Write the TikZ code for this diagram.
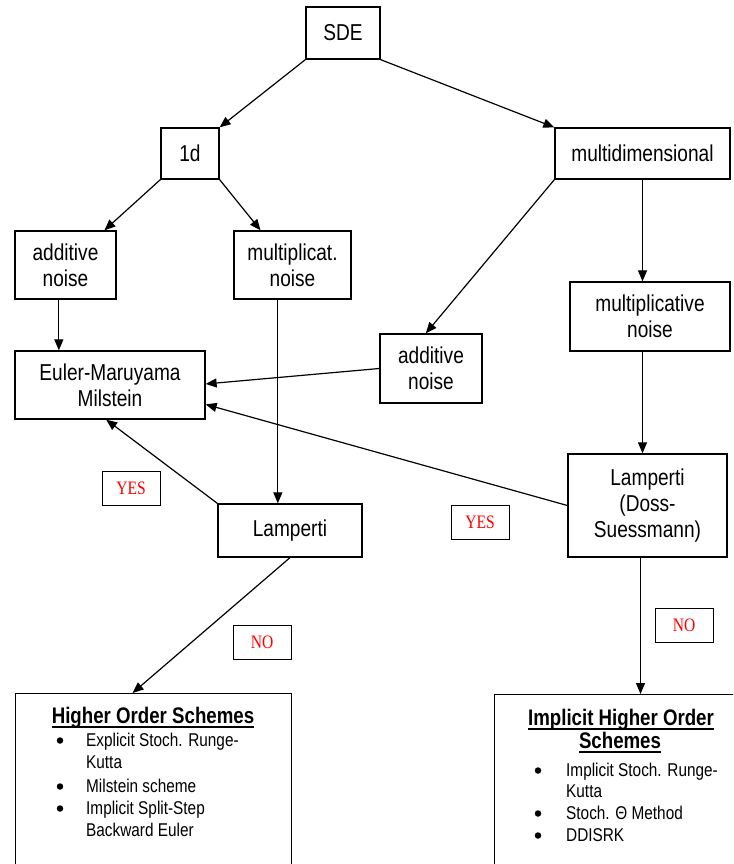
\documentclass[tikz,border=0pt]{standalone}
\usepackage{fontspec}
\setmainfont[FakeStretch=0.83]{Liberation Sans}
\newfontfamily\serifred[FakeStretch=0.82]{Liberation Serif}
\usetikzlibrary{arrows.meta,calc}
\begin{document}
\begin{tikzpicture}[x=1pt,y=-1pt,
  box/.style={draw,line width=1.3pt,inner sep=0pt,align=center,font=\fontsize{23}{26}\selectfont},
  tag/.style={draw,line width=1pt,inner sep=0pt,minimum width=58pt,minimum height=34pt,text=red,font=\serifred\fontsize{19}{20}\selectfont},
  conn/.style={line width=1.2pt,-{Triangle[length=11pt,width=9pt]}},
  head/.style={inner sep=0pt,font=\bfseries\fontsize{22.5}{26}\selectfont},
  item/.style={inner sep=0pt,anchor=base west,font=\fontsize{18.5}{22}\selectfont},
  dot/.style={circle,fill,inner sep=0pt,minimum size=6.5pt}]
\useasboundingbox (0,0) rectangle (733,864);
\clip (0,0) rectangle (733,864);

% boxes
\node[box,minimum width=74pt,minimum height=52pt] (sde) at (343,33) {SDE};
\node[box,minimum width=58pt,minimum height=51pt] (d1) at (190,153.5) {1d};
\node[box,minimum width=175pt,minimum height=51pt] (multi) at (642.5,153.5) {multidimensional};
\node[box,minimum width=101pt,minimum height=68pt] (addL) at (65.5,265) {additive\\noise};
\node[box,minimum width=117pt,minimum height=68pt] (multL) at (292.5,265) {multiplicat.\\noise};
\node[box,minimum width=160pt,minimum height=69pt] (multR) at (650,316.5) {multiplicative\\noise};
\node[box,minimum width=102pt,minimum height=69pt] (addM) at (431,368.5) {additive\\noise};
\node[box,minimum width=190pt,minimum height=68pt] (em) at (110,385) {Euler-Maruyama\\Milstein};
\node[box,minimum width=144pt,minimum height=53pt] (lam) at (290,530.5) {Lamperti};
\node[box,minimum width=159pt,minimum height=103pt] (lamDS) at (647.5,505.5) {Lamperti\\(Doss-\\Suessmann)};

% labels
\node[tag] (yesL) at (131,488) {YES};
\node[tag] (yesR) at (480,522) {YES};
\node[tag] (noL) at (262,642.5) {NO};
\node[tag] (noR) at (684,625) {NO};

% lower boxes (cut by the page edge)
\node[draw,line width=1.3pt,inner sep=0pt,anchor=north west,minimum width=276pt,minimum height=220pt] (lowL) at (15,693) {};
\node[draw,line width=1.3pt,inner sep=0pt,anchor=north west,minimum width=300pt,minimum height=220pt] (lowR) at (494,694) {};

\node[head,anchor=base] (hL) at (153,723) {Higher Order Schemes};
\draw[line width=1.8pt] ($(hL.base west)+(0,4)$) -- ($(hL.base east)+(0,4)$);
\node[dot] (bL1) at (60,740.5) {};
\node[item] (tL1) at (86,746) {Explicit Stoch. Runge-};
\node[item] (tL2) at (86,768) {Kutta};
\node[dot] (bL2) at (60,786.5) {};
\node[item] (tL3) at (86,792) {Milstein scheme};
\node[dot] (bL3) at (60,808.5) {};
\node[item] (tL4) at (86,814) {Implicit Split-Step};
\node[item] (tL5) at (86,836) {Backward Euler};

\node[head,anchor=base] (hR1) at (621,725) {Implicit Higher Order};
\draw[line width=1.8pt] ($(hR1.base west)+(0,4)$) -- ($(hR1.base east)+(0,4)$);
\node[head,anchor=base] (hR2) at (620,748) {Schemes};
\draw[line width=1.8pt] ($(hR2.base west)+(0,4)$) -- ($(hR2.base east)+(0,4)$);
\node[dot] (bR1) at (538,770.5) {};
\node[item] (tR1) at (566,776) {Implicit Stoch. Runge-};
\node[item] (tR2) at (566,797) {Kutta};
\node[dot] (bR2) at (538,813.5) {};
\node[item] (tR3) at (566,819) {Stoch. Θ Method};
\node[dot] (bR3) at (538,835.5) {};
\node[item] (tR4) at (566,841) {DDISRK};

% connectors
\draw[conn] (sde.south west) -- (d1.north east);
\draw[conn] (sde.south east) -- (multi.north west);
\draw[conn] (d1.south west) -- ($(addL.north west)!0.88!(addL.north east)$);
\draw[conn] (d1.south east) -- ($(multL.north west)!0.23!(multL.north east)$);
\draw[conn] (multi.south west) -- ($(addM.north west)!0.45!(addM.north east)$);
\draw[conn] (multi.south) -- (multi.south |- multR.north);
\coordinate (aLs) at ($(addL.south west)!0.435!(addL.south east)$);
\draw[conn] (aLs) -- (aLs |- em.north);
\draw[conn] (addM.west) -- ($(em.north east)!0.485!(em.south east)$);
\coordinate (mLs) at ($(multL.south west)!0.376!(multL.south east)$);
\draw[conn] (mLs) -- (mLs |- lam.north);
\draw[conn] (lam.north west) -- ($(em.south west)!0.48!(em.south east)$);
\draw[conn] (lamDS.west) -- ($(em.north east)!0.78!(em.south east)$);
\draw[conn] (multi.south |- multR.south) -- (multi.south |- lamDS.north);
\draw[conn] (lam.south) -- ($(lowL.north west)!0.424!(lowL.north east)$);
\draw[conn] ([xshift=-2pt]multi.south |- lamDS.south) -- ([xshift=-2pt]multi.south |- lowR.north);
\end{tikzpicture}
\end{document}
